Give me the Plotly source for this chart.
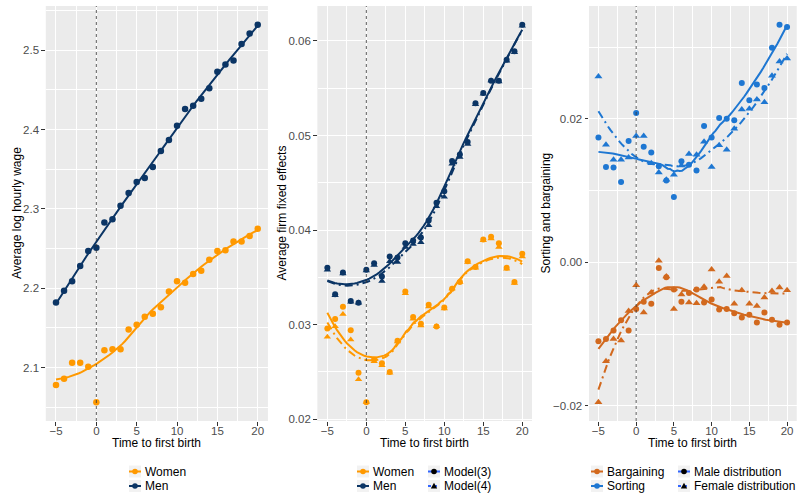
import numpy as np
import plotly.graph_objects as go

# time to first birth (event time)
t = list(range(-5, 21))

# panel 1: average log hourly wage
wage_women = [2.078, 2.086, 2.106, 2.106, 2.101, 2.0565, 2.122, 2.123, 2.123, 2.148,
              2.154, 2.164, 2.168, 2.176, 2.196, 2.209, 2.207, 2.218, 2.222, 2.236,
              2.247, 2.248, 2.259, 2.259, 2.266, 2.275]
wage_men = [2.182, 2.197, 2.209, 2.228, 2.247, 2.251, 2.283, 2.287, 2.304, 2.320,
            2.334, 2.339, 2.353, 2.373, 2.387, 2.405, 2.426, 2.430, 2.439, 2.452,
            2.473, 2.482, 2.487, 2.508, 2.521, 2.532]

# panel 2: average firm fixed effects, Model(3) = circles, Model(4) = triangles
ffe_women_m3 = [0.0296, 0.0306, 0.0319, 0.0294, 0.0249, 0.0218, 0.0263, 0.0259, 0.0250, 0.0283,
                0.0335, 0.0308, 0.0301, 0.0321, 0.0298, 0.0318, 0.0338, 0.0345, 0.0367, 0.0361,
                0.0390, 0.0393, 0.0386, 0.0360, 0.0345, 0.0375]
ffe_women_m4 = [0.0287, 0.0298, 0.0311, 0.0284, 0.0242, 0.0218, 0.0261, 0.0257, 0.0249, 0.0282,
                0.0333, 0.0306, 0.0299, 0.0319, 0.0298, 0.0317, 0.0338, 0.0345, 0.0366, 0.0360,
                0.0389, 0.0391, 0.0382, 0.0359, 0.0344, 0.0372]
ffe_men_m3 = [0.0360, 0.0332, 0.0355, 0.0325, 0.0323, 0.0358, 0.0365, 0.0351, 0.0372, 0.0371,
              0.0386, 0.0389, 0.0392, 0.0410, 0.0429, 0.0441, 0.0473, 0.0480, 0.0493, 0.0534,
              0.0545, 0.0558, 0.0558, 0.0580, 0.0589, 0.0617]
ffe_men_m4 = [0.0358, 0.0331, 0.0354, 0.0324, 0.0323, 0.0357, 0.0363, 0.0346, 0.0367, 0.0366,
              0.0382, 0.0385, 0.0387, 0.0405, 0.0425, 0.0435, 0.0470, 0.0477, 0.0491, 0.0533,
              0.0544, 0.0558, 0.0557, 0.0579, 0.0588, 0.0616]

# panel 3: sorting and bargaining, male distribution = circles, female = triangles
sort_male = [0.0174, 0.0133, 0.0132, 0.0112, 0.0169, 0.0208, 0.0161, 0.0153, 0.0134, 0.0114,
             0.0091, 0.0141, 0.0136, 0.0128, 0.0190, 0.0174, 0.0201, 0.0200, 0.0198, 0.0250,
             0.0226, 0.0248, 0.0243, 0.0299, 0.0331, 0.0328]
sort_female = [0.0259, 0.0164, 0.0143, 0.0143, 0.0146, 0.0176, 0.0176, 0.0138, 0.0125, 0.0115,
               0.0122, 0.0135, 0.0151, 0.0150, 0.0168, 0.0133, 0.0163, 0.0157, 0.0186, 0.0213,
               0.0214, 0.0227, 0.0223, 0.0260, 0.0280, 0.0284]
barg_male = [-0.0110, -0.0107, -0.0095, -0.0081, -0.0095, -0.0065, -0.0055, -0.0058, -0.0008, -0.0021,
             -0.0038, -0.0055, -0.0043, -0.0038, -0.0056, -0.0052, -0.0066, -0.0065, -0.0071, -0.0077,
             -0.0073, -0.0084, -0.0070, -0.0080, -0.0087, -0.0084]
barg_female = [-0.0195, -0.0138, -0.0107, -0.0109, -0.0068, -0.0032, -0.0070, -0.0042, 0.0002, -0.0020,
               -0.0065, -0.0045, -0.0056, -0.0057, -0.0034, -0.0010, -0.0027, -0.0019, -0.0058, -0.0039,
               -0.0058, -0.0061, -0.0049, -0.0040, -0.0035, -0.0039]

WOMEN = '#FF9900'
MEN = '#0B3565'
SORTING = '#1E77D2'
BARGAINING = '#D2691E'
KEYBLUE = '#3366FF'
FONT = 'Liberation Sans, Arial, sans-serif'

W, H = 797, 501


def loess(x, y, span=0.75, n_out=80):
    """local quadratic smoother, like ggplot's geom_smooth default"""
    x = np.asarray(x, float)
    y = np.asarray(y, float)
    q = int(np.floor(len(x) * span))
    grid = np.linspace(x.min(), x.max(), n_out)
    fit = []
    for x0 in grid:
        d = np.abs(x - x0)
        h = np.sort(d)[q - 1]
        w = np.clip(1 - (d / h) ** 3, 0, None) ** 3
        X = np.vstack([np.ones_like(x), x - x0, (x - x0) ** 2]).T
        XtW = X.T * w
        beta = np.linalg.solve(XtW @ X, XtW @ y)
        fit.append(beta[0])
    return grid, np.array(fit)


def padded(*series):
    lo = min(min(s) for s in series)
    hi = max(max(s) for s in series)
    e = (hi - lo) * 0.05
    return [lo - e, hi + e]


def px(v):
    return v / W


def py(v):
    return 1 - v / H


fig = go.Figure()


def points(ax, y, color, symbol, size=6.5):
    fig.add_trace(go.Scatter(x=t, y=y, mode='markers', xaxis='x' + ax, yaxis='y' + ax,
                             marker=dict(color=color, symbol=symbol, size=size),
                             showlegend=False, hoverinfo='skip'))


def smooth(ax, y, color, dash='solid'):
    gx, gy = loess(t, y)
    fig.add_trace(go.Scatter(x=gx, y=gy, mode='lines', xaxis='x' + ax, yaxis='y' + ax,
                             line=dict(color=color, width=2, dash=dash),
                             showlegend=False, hoverinfo='skip'))


DASHDOT = '8px,4px,2px,4px'

# panel 1
points('', wage_women, WOMEN, 'circle')
points('', wage_men, MEN, 'circle')
smooth('', wage_women, WOMEN)
smooth('', wage_men, MEN)

# panel 2
for ys, c in [(ffe_women_m3, WOMEN), (ffe_men_m3, MEN)]:
    points('2', ys, c, 'circle', 6)
for ys, c in [(ffe_women_m4, WOMEN), (ffe_men_m4, MEN)]:
    points('2', ys, c, 'triangle-up', 6.5)
smooth('2', ffe_women_m3, WOMEN)
smooth('2', ffe_men_m3, MEN)
smooth('2', ffe_women_m4, WOMEN, DASHDOT)
smooth('2', ffe_men_m4, MEN, DASHDOT)

# panel 3
points('3', sort_male, SORTING, 'circle', 6)
points('3', barg_male, BARGAINING, 'circle', 6)
points('3', sort_female, SORTING, 'triangle-up', 7)
points('3', barg_female, BARGAINING, 'triangle-up', 7)
smooth('3', sort_male, SORTING)
smooth('3', barg_male, BARGAINING)
smooth('3', sort_female, SORTING, DASHDOT)
smooth('3', barg_female, BARGAINING, DASHDOT)

panels = {
    '': dict(x=(45.9, 267.8), yr=padded(wage_women, wage_men), dtick=0.1, fmt='.1f'),
    '2': dict(x=(317.6, 532.0), yr=padded(ffe_women_m3, ffe_women_m4, ffe_men_m3, ffe_men_m4),
              dtick=0.01, fmt='.2f'),
    '3': dict(x=(589.0, 796.5), yr=padded(sort_male, sort_female, barg_male, barg_female),
              dtick=0.02, fmt='.2f'),
}

ydom = [py(421), py(6)]
layout = {}
for ax, p in panels.items():
    layout['xaxis' + ax] = dict(
        domain=[px(p['x'][0]), px(p['x'][1])], anchor='y' + ax, range=[-6.25, 21.25],
        tick0=-5, dtick=5, ticks='outside', ticklen=3.5, tickcolor='#333333', tickwidth=1,
        tickfont=dict(size=11.5, color='#4D4D4D', family=FONT), automargin=False,
        ticklabelstandoff=-4,
        showgrid=True, gridcolor='white', gridwidth=1.1, zeroline=False, showline=False,
        minor=dict(dtick=2.5, tick0=-2.5, showgrid=True, gridcolor='white', gridwidth=0.5),
    )
    layout['yaxis' + ax] = dict(
        domain=ydom, anchor='x' + ax, range=p['yr'],
        dtick=p['dtick'], tickformat=p['fmt'], ticks='outside', ticklen=3.5,
        tickcolor='#333333', tickwidth=1, automargin=False,
        tickfont=dict(size=11.5, color='#4D4D4D', family=FONT),
        showgrid=True, gridcolor='white', gridwidth=1.1, zeroline=False, showline=False,
        minor=dict(dtick=p['dtick'] / 2, showgrid=True, gridcolor='white', gridwidth=0.5),
    )

birth = 0
shapes = []
for ax, p in panels.items():
    shapes.append(dict(type='rect', xref='x' + ax + ' domain', yref='y' + ax + ' domain',
                       x0=0, x1=1, y0=0, y1=1, fillcolor='#EBEBEB', line_width=0, layer='below'))
    shapes.append(dict(type='line', xref='x' + ax, yref='y' + ax + ' domain', x0=birth, x1=birth,
                       y0=0, y1=1, line=dict(color='#333333', width=0.8, dash='dot')))

annotations = []
ytitles = [('Average log hourly wage', 16.5), ('Average firm fixed effects', 281), ('Sorting and bargaining', 545)]
for text, xc in ytitles:
    annotations.append(dict(text=text, x=px(xc), y=py(213.5), xref='paper', yref='paper',
                            showarrow=False, textangle=-90, xanchor='center', yanchor='middle',
                            font=dict(size=12, color='black', family=FONT)))
for ax, p in panels.items():
    annotations.append(dict(text='Time to first birth', x=px(sum(p['x']) / 2), y=py(443),
                            xref='paper', yref='paper', showarrow=False,
                            xanchor='center', yanchor='middle',
                            font=dict(size=12, color='black', family=FONT)))

# legends drawn by hand: ggplot-style small keys under each panel
legend_rows = [471.5, 486]
legend_columns = [
    # key centre x, entries (label, line colour, marker colour, symbol, dash)
    (135, [('Women', WOMEN, WOMEN, 'circle', 'solid'), ('Men', MEN, MEN, 'circle', 'solid')]),
    (363, [('Women', WOMEN, WOMEN, 'circle', 'solid'), ('Men', MEN, MEN, 'circle', 'solid')]),
    (434, [('Model(3)', KEYBLUE, 'black', 'circle', 'solid'),
           ('Model(4)', KEYBLUE, 'black', 'triangle', 'dash')]),
    (597, [('Bargaining', BARGAINING, BARGAINING, 'circle', 'solid'),
           ('Sorting', SORTING, SORTING, 'circle', 'solid')]),
    (684, [('Male distribution', KEYBLUE, 'black', 'circle', 'solid'),
           ('Female distribution', KEYBLUE, 'black', 'triangle', 'dash')]),
]
for kx, entries in legend_columns:
    for (label, lc, mc, sym, dash), ry in zip(entries, legend_rows):
        shapes.append(dict(type='rect', xref='paper', yref='paper', x0=px(kx - 6), x1=px(kx + 6),
                           y0=py(ry + 6), y1=py(ry - 6), fillcolor='#F2F2F2', line_width=0))
        shapes.append(dict(type='line', xref='paper', yref='paper', x0=px(kx - 6), x1=px(kx + 6),
                           y0=py(ry), y1=py(ry), line=dict(color=lc, width=2,
                                                           dash='dot' if dash == 'dash' else 'solid')))
        if sym == 'circle':
            shapes.append(dict(type='circle', xref='paper', yref='paper', x0=px(kx - 2.8), x1=px(kx + 2.8),
                               y0=py(ry + 2.8), y1=py(ry - 2.8), fillcolor=mc, line_width=0))
        else:
            path = 'M {} {} L {} {} L {} {} Z'.format(px(kx - 3.2), py(ry + 2.6), px(kx + 3.2), py(ry + 2.6),
                                                      px(kx), py(ry - 3.2))
            shapes.append(dict(type='path', xref='paper', yref='paper', path=path,
                               fillcolor=mc, line_width=0))
        annotations.append(dict(text=label, x=px(kx + 8), y=py(ry), xref='paper', yref='paper',
                                showarrow=False, xanchor='left', yanchor='middle',
                                font=dict(size=12, color='black', family=FONT)))

fig.update_layout(
    width=W, height=H,
    margin=dict(l=0, r=0, t=0, b=0),
    paper_bgcolor='white', plot_bgcolor='#EBEBEB',
    font=dict(family=FONT), showlegend=False,
    shapes=shapes, annotations=annotations,
    **layout,
)

fig.write_html("out.html", config={'displayModeBar': False},
               post_script="document.body.style.margin='0';document.body.style.padding='0';")
